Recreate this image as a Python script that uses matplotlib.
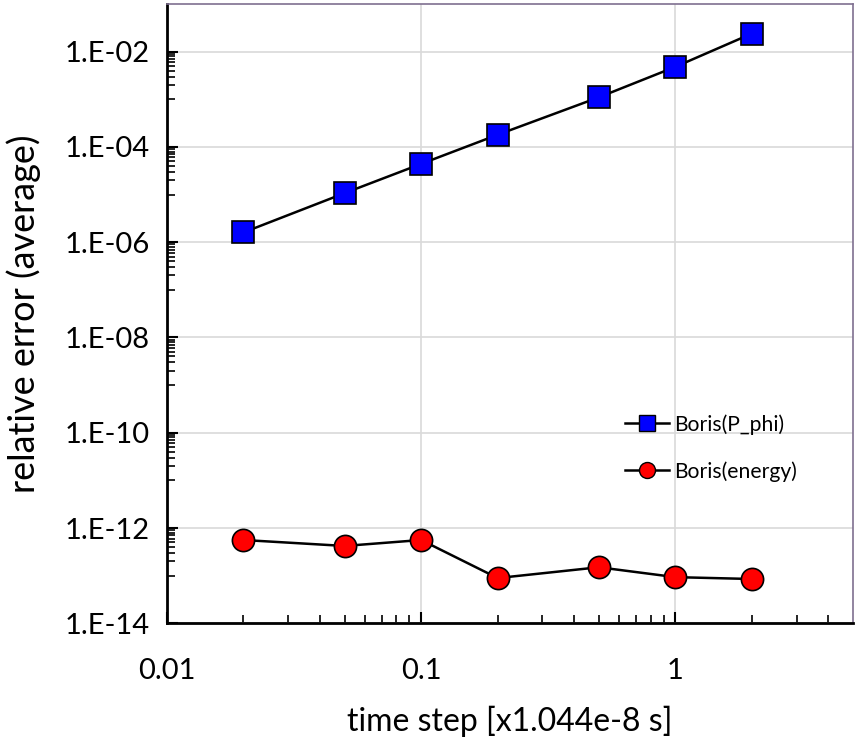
import matplotlib.pyplot as plt
import numpy as np
from matplotlib.ticker import FixedLocator, NullFormatter
from matplotlib.lines import Line2D

plt.rcParams['font.family'] = ['Lato', 'DejaVu Sans']

# data
dt = [0.02, 0.05, 0.1, 0.2, 0.5, 1, 2]
err_pphi = [1.6e-6, 1.07e-5, 4.4e-5, 1.8e-4, 1.1e-3, 4.8e-3, 2.4e-2]
err_energy = [5.6e-13, 4.2e-13, 5.6e-13, 8.9e-14, 1.5e-13, 9.3e-14, 8.5e-14]
ytick_vals = [1e-14, 1e-12, 1e-10, 1e-8, 1e-6, 1e-4, 1e-2]
ytick_labels = ['1.E-14', '1.E-12', '1.E-10', '1.E-08', '1.E-06', '1.E-04', '1.E-02']
xtick_vals = [0.01, 0.1, 1]
xtick_labels = ['0.01', '0.1', '1']

fig = plt.figure(figsize=(8.6, 7.42), dpi=100)
ax = fig.add_axes([0.194, 0.160, 0.798, 0.8346])

ax.plot(dt, err_pphi, '-', color='black', lw=1.8, marker='s', ms=16.5,
        mfc='#0000ff', mec='black', mew=1.2, zorder=3)
ax.plot(dt, err_energy, '-', color='black', lw=1.8, marker='o', ms=16,
        mfc='#ff0000', mec='black', mew=1.2, zorder=3)

ax.set_xscale('log')
ax.set_yscale('log')
ax.set_xlim(0.01, 5)
ax.set_ylim(1e-14, 1e-1)

ax.set_yticks(ytick_vals)
ax.set_yticklabels(ytick_labels)
ax.set_xticks(xtick_vals)
ax.set_xticklabels(xtick_labels)

# excel-style minor ticks: only inside the odd decades on y
ymin = [k * 10.0 ** e for e in range(-13, -1, 2) for k in range(1, 10)]
ax.yaxis.set_minor_locator(FixedLocator(ymin))
ax.yaxis.set_minor_formatter(NullFormatter())
xmin = [k * 10.0 ** e for e in range(-2, 1) for k in range(2, 10) if k * 10.0 ** e < 5]
ax.xaxis.set_minor_locator(FixedLocator(xmin))
ax.xaxis.set_minor_formatter(NullFormatter())

ax.tick_params(which='both', direction='in', colors='black', labelsize=21)
ax.tick_params(which='major', length=8, width=1.5)
ax.tick_params(which='minor', length=6, width=1.2)
ax.tick_params(axis='y', which='both', left=True, right=False, pad=12)
ax.tick_params(axis='x', which='both', bottom=True, top=False, pad=25)

ax.grid(True, which='major', color='#d9d9d9', lw=1.2)
ax.set_axisbelow(True)

for s in ['left', 'bottom']:
    ax.spines[s].set_color('black')
    ax.spines[s].set_linewidth(2)
for s in ['top', 'right']:
    ax.spines[s].set_color('#7f7090')
    ax.spines[s].set_linewidth(1.2)

ax.set_xlabel('time step [x1.044e-8 s]', fontsize=23)
ax.set_ylabel('relative error (average)', fontsize=26)
ax.xaxis.set_label_coords(0.5, -0.1325)
ax.yaxis.set_label_coords(-0.183, 0.5)

handles = [
    Line2D([], [], color='black', lw=1.8, marker='s', ms=11.5, mfc='#0000ff', mec='black', mew=1),
    Line2D([], [], color='black', lw=1.8, marker='o', ms=11.5, mfc='#ff0000', mec='black', mew=1),
]
ax.legend(handles, ['Boris(P_phi)', 'Boris(energy)'], loc='center left',
          bbox_to_anchor=(0.668, 0.2835), frameon=False, fontsize=15.2,
          handlelength=2.05, handletextpad=0.25, labelspacing=1.25,
          borderpad=0, borderaxespad=0)

fig.savefig('out.png', dpi=100)
